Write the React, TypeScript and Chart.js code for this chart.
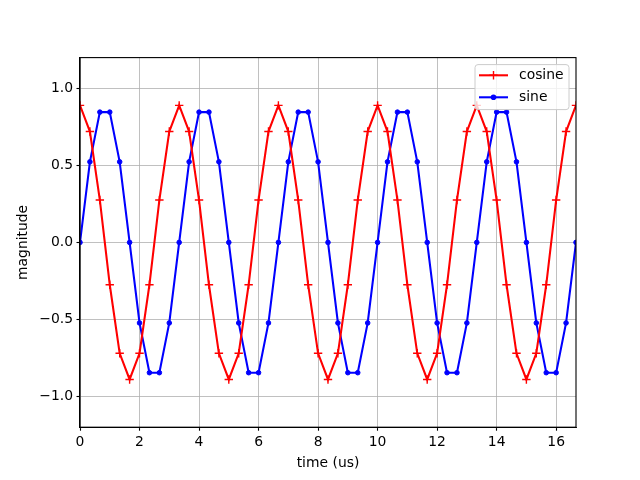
import React, { useEffect, useRef } from 'react';
import { Chart, registerables } from 'chart.js';

Chart.register(...registerables);

const timeUs = [
  0, 0.333, 0.667, 1, 1.333, 1.667, 2, 2.333, 2.667, 3, 3.333, 3.667, 4, 4.333, 4.667,
  5, 5.333, 5.667, 6, 6.333, 6.667, 7, 7.333, 7.667, 8, 8.333, 8.667, 9, 9.333, 9.667,
  10, 10.333, 10.667, 11, 11.333, 11.667, 12, 12.333, 12.667, 13, 13.333, 13.667, 14,
  14.333, 14.667, 15, 15.333, 15.667, 16, 16.333, 16.667,
];

const cosineValues = [
  0.89, 0.72, 0.275, -0.275, -0.72, -0.89, -0.72, -0.275, 0.275, 0.72,
  0.89, 0.72, 0.275, -0.275, -0.72, -0.89, -0.72, -0.275, 0.275, 0.72,
  0.89, 0.72, 0.275, -0.275, -0.72, -0.89, -0.72, -0.275, 0.275, 0.72,
  0.89, 0.72, 0.275, -0.275, -0.72, -0.89, -0.72, -0.275, 0.275, 0.72,
  0.89, 0.72, 0.275, -0.275, -0.72, -0.89, -0.72, -0.275, 0.275, 0.72,
  0.89,
];

const sineValues = [
  0, 0.523, 0.846, 0.846, 0.523, 0, -0.523, -0.846, -0.846, -0.523,
  0, 0.523, 0.846, 0.846, 0.523, 0, -0.523, -0.846, -0.846, -0.523,
  0, 0.523, 0.846, 0.846, 0.523, 0, -0.523, -0.846, -0.846, -0.523,
  0, 0.523, 0.846, 0.846, 0.523, 0, -0.523, -0.846, -0.846, -0.523,
  0, 0.523, 0.846, 0.846, 0.523, 0, -0.523, -0.846, -0.846, -0.523,
  0,
];

const seriesLabels = ['cosine', 'sine'];
const seriesColors = ['#ff0000', '#0000ff'];
const xTicks = [0, 2, 4, 6, 8, 10, 12, 14, 16];
const yTicks = [-1, -0.5, 0, 0.5, 1];
const xTitle = 'time (us)';
const yTitle = 'magnitude';

const FONT = "'DejaVu Sans', sans-serif";
const FS = 13.9;

const framePlugin = {
  id: 'frame',
  afterDatasetsDraw(chart: any) {
    const { ctx, chartArea } = chart;
    const { left, top, right, bottom } = chartArea;
    ctx.save();
    ctx.strokeStyle = '#000';
    ctx.lineWidth = 1.1;
    ctx.strokeRect(left, top, right - left, bottom - top);
    ctx.restore();
  },
};

const legendPlugin = {
  id: 'mplLegend',
  afterDraw(chart: any) {
    const { ctx, chartArea } = chart;
    const right = chartArea.right - 7;
    const top = chartArea.top + 7;
    const w = 94;
    const h = 45;
    const left = right - w;
    ctx.save();
    // box
    const r = 3;
    ctx.beginPath();
    ctx.moveTo(left + r, top);
    ctx.lineTo(right - r, top);
    ctx.arcTo(right, top, right, top + r, r);
    ctx.lineTo(right, top + h - r);
    ctx.arcTo(right, top + h, right - r, top + h, r);
    ctx.lineTo(left + r, top + h);
    ctx.arcTo(left, top + h, left, top + h - r, r);
    ctx.lineTo(left, top + r);
    ctx.arcTo(left, top, left + r, top, r);
    ctx.closePath();
    ctx.fillStyle = 'rgba(255,255,255,0.8)';
    ctx.fill();
    ctx.strokeStyle = '#cccccc';
    ctx.lineWidth = 1;
    ctx.stroke();

    seriesLabels.forEach((label, i) => {
      const y = top + 10.7 + i * 22;
      const x0 = left + 4;
      const x1 = x0 + 29;
      const cx = (x0 + x1) / 2;
      ctx.strokeStyle = seriesColors[i];
      ctx.lineWidth = 2.08;
      ctx.beginPath();
      ctx.moveTo(x0, y);
      ctx.lineTo(x1, y);
      ctx.stroke();
      if (i === 0) {
        ctx.lineWidth = 1.4;
        ctx.beginPath();
        ctx.moveTo(cx, y - 4.2);
        ctx.lineTo(cx, y + 4.2);
        ctx.moveTo(cx - 4.2, y);
        ctx.lineTo(cx + 4.2, y);
        ctx.stroke();
      } else {
        ctx.fillStyle = seriesColors[i];
        ctx.beginPath();
        ctx.arc(cx, y, 2.8, 0, Math.PI * 2);
        ctx.fill();
      }
      ctx.fillStyle = '#000';
      ctx.font = `${FS}px ${FONT}`;
      ctx.textBaseline = 'middle';
      ctx.textAlign = 'left';
      ctx.fillText(label, x1 + 11, y);
    });
    ctx.restore();
  },
};

export default function App() {
  const ref = useRef<HTMLCanvasElement>(null);

  useEffect(() => {
    if (!ref.current) return;
    const chart = new Chart(ref.current, {
      type: 'line',
      data: {
        datasets: [
          {
            label: seriesLabels[0],
            data: timeUs.map((x, i) => ({ x, y: cosineValues[i] })),
            borderColor: seriesColors[0],
            backgroundColor: seriesColors[0],
            borderWidth: 2.08,
            pointStyle: 'cross',
            pointRadius: 4.2,
            pointBorderWidth: 1.4,
            pointBorderColor: seriesColors[0],
            tension: 0,
            clip: 0,
          },
          {
            label: seriesLabels[1],
            data: timeUs.map((x, i) => ({ x, y: sineValues[i] })),
            borderColor: seriesColors[1],
            backgroundColor: seriesColors[1],
            borderWidth: 2.08,
            pointStyle: 'circle',
            pointRadius: 2.3,
            pointBorderWidth: 1,
            pointBorderColor: seriesColors[1],
            tension: 0,
            clip: 0,
          },
        ],
      },
      options: {
        responsive: false,
        animation: false,
        devicePixelRatio: 1,
        layout: { padding: { left: 0, top: 57.6, right: 64, bottom: 0 } },
        plugins: {
          legend: { display: false },
          tooltip: { enabled: false },
        },
        scales: {
          x: {
            type: 'linear',
            min: 0,
            max: 16.667,
            afterBuildTicks: (scale: any) => {
              scale.ticks = xTicks.map((v) => ({ value: v }));
            },
            afterFit: (scale: any) => {
              scale.height = 52.8;
            },
            ticks: {
              autoSkip: false,
              maxRotation: 0,
              padding: 3.5,
              color: '#000',
              font: { family: FONT, size: FS },
              callback: (v: any) => String(v),
            },
            grid: {
              color: '#b0b0b0',
              lineWidth: 0.8,
              tickColor: '#000',
              tickLength: 3.5,
              tickWidth: 1.1,
            },
            border: { display: true, color: '#000', width: 1.1 },
            title: {
              display: true,
              text: xTitle,
              color: '#000',
              font: { family: FONT, size: FS },
              padding: { top: 0, bottom: 8 },
            },
          },
          y: {
            type: 'linear',
            min: -1.2,
            max: 1.2,
            afterBuildTicks: (scale: any) => {
              scale.ticks = yTicks.map((v) => ({ value: v }));
            },
            afterFit: (scale: any) => {
              scale.width = 80;
            },
            ticks: {
              autoSkip: false,
              padding: 3.5,
              color: '#000',
              font: { family: FONT, size: FS },
              callback: (v: any) =>
                (v < 0 ? '\u2212' : '') + Math.abs(Number(v)).toFixed(1),
            },
            grid: {
              color: '#b0b0b0',
              lineWidth: 0.8,
              tickColor: '#000',
              tickLength: 3.5,
              tickWidth: 1.1,
            },
            border: { display: true, color: '#000', width: 1.1 },
            title: {
              display: true,
              text: yTitle,
              color: '#000',
              font: { family: FONT, size: FS },
              padding: { top: 15.5, bottom: 0 },
            },
          },
        },
      },
      plugins: [framePlugin, legendPlugin],
    } as any);
    return () => chart.destroy();
  }, []);

  return (
    <div style={{ position: 'absolute', left: 0, top: 0, width: 640, height: 480, background: '#fff' }}>
      <canvas ref={ref} width={640} height={480} style={{ display: 'block' }} />
    </div>
  );
}
